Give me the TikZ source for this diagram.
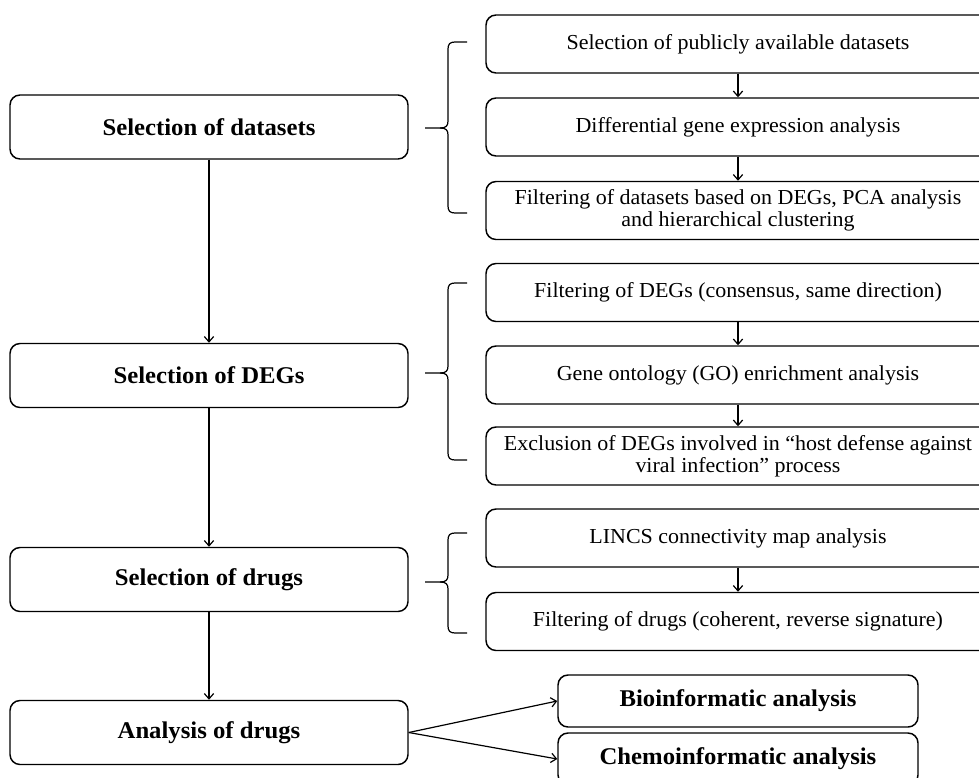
\documentclass[tikz,border=0pt]{standalone}
\usepackage{fontspec}
\setmainfont{Liberation Serif}[FakeStretch=1.03]
\usetikzlibrary{arrows.meta}

% bracket from the top row (#1) to the bottom row (#2), tip at #3
\newcommand{\groupbracket}[3]{%
  \draw[bracket] (467,#1) -- (455,#1) .. controls (450,#1) and (448,#1+2) .. (448,#1+7)
    -- (448,#3-7) .. controls (448,#3-2) and (446,#3) .. (440,#3) -- (425,#3);
  \draw[bracket] (440,#3) .. controls (446,#3) and (448,#3+2) .. (448,#3+7)
    -- (448,#2-7) .. controls (448,#2-2) and (450,#2) .. (455,#2) -- (467,#2);
}

\begin{document}
\begin{tikzpicture}[x=0.75pt, y=-0.75pt,
    stage/.style = {draw, line width=1.1pt, rounded corners=7.5pt, align=center,
      minimum width=298.5pt, minimum height=48pt, font=\fontsize{18}{20}\selectfont\bfseries},
    task/.style = {draw, line width=1.1pt, rounded corners=7.5pt, align=center,
      minimum width=378pt, minimum height=43.5pt, font=\fontsize{16}{16.3}\selectfont},
    result/.style = {stage, minimum width=270pt, minimum height=39pt},
    flow/.style = {-{Straight Barb[length=4pt, width=7pt]}, line width=0.9pt},
    bracket/.style = {line width=0.9pt}]
  \useasboundingbox (0,0) rectangle (979,778);
  \clip (0,0) rectangle (979,778);

  % main stages
  \node[stage] (datasets) at (209,127) {Selection of datasets};
  \node[stage] (degs) at (209,375.5) {Selection of DEGs};
  \node[stage] (drugs) at (209,579.5) {Selection of drugs};
  \node[stage] (analysis) at (209,732.5) {Analysis of drugs};

  % steps of each stage
  \node[task] (public) at (738,44) {Selection of publicly available datasets};
  \node[task] (dge) at (738,127) {Differential gene expression analysis};
  \node[task] (filterdata) at (738,210.5) {Filtering of datasets based on DEGs, PCA analysis\\and hierarchical clustering};
  \node[task] (filterdegs) at (738,292.5) {Filtering of DEGs (consensus, same direction)};
  \node[task] (go) at (738,375) {Gene ontology (GO) enrichment analysis};
  \node[task] (exclusion) at (738,456) {Exclusion of DEGs involved in “host defense against\\viral infection” process};
  \node[task] (lincs) at (738,538) {LINCS connectivity map analysis};
  \node[task] (filterdrugs) at (738,621.5) {Filtering of drugs (coherent, reverse signature)};

  \node[result] (bio) at (738,701) {Bioinformatic analysis};
  \node[result] (chemo) at (738,759) {Chemoinformatic analysis};

  \draw[flow] (datasets) -- (degs);
  \draw[flow] (degs) -- (drugs);
  \draw[flow] (drugs) -- (analysis);

  \draw[flow] (public) -- (dge);
  \draw[flow] (dge) -- (filterdata);
  \draw[flow] (filterdegs) -- (go);
  \draw[flow] (go) -- (exclusion);
  \draw[flow] (lincs) -- (filterdrugs);

  \draw[flow] (analysis.east) -- (bio.west);
  \draw[flow] (analysis.east) -- (chemo.west);

  \groupbracket{42}{213}{128}
  \groupbracket{283}{460}{373}
  \groupbracket{533}{633}{582}
\end{tikzpicture}
\end{document}
